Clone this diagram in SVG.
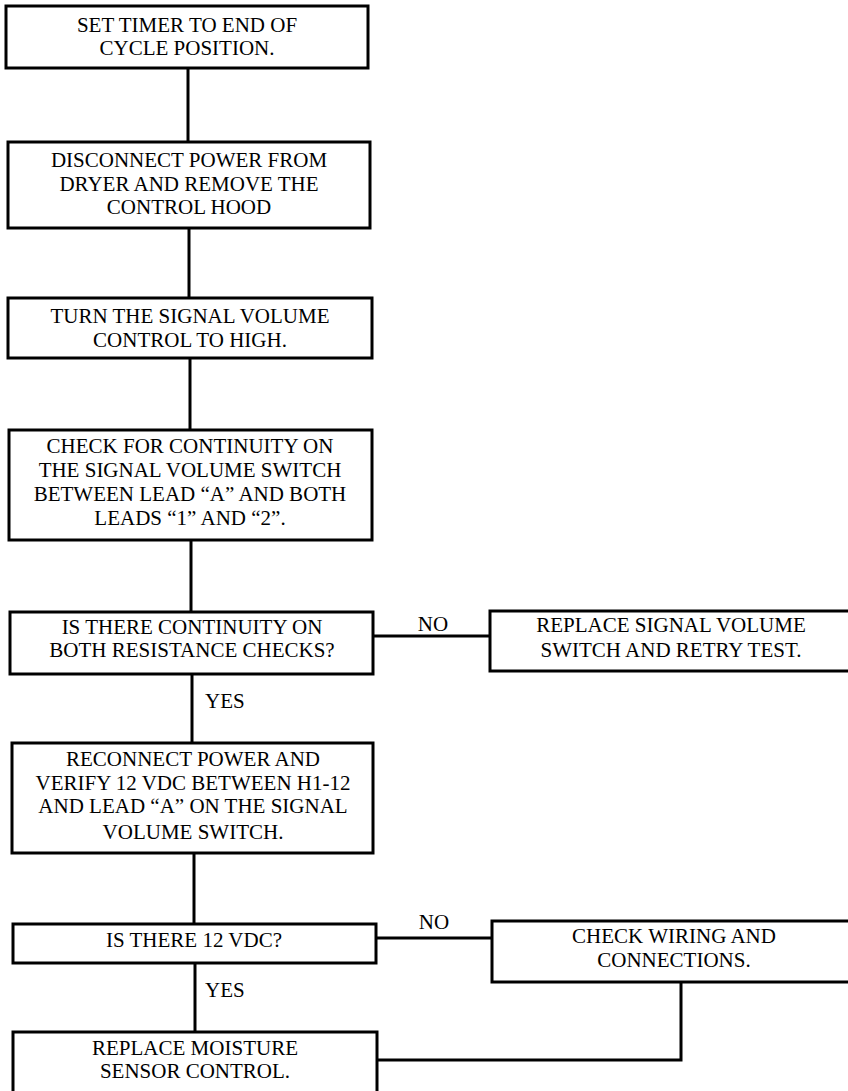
<svg xmlns="http://www.w3.org/2000/svg" width="848" height="1091" viewBox="0 0 848 1091">
<style>
.box{fill:#fff;stroke:#000;stroke-width:3}
.ln{fill:none;stroke:#000;stroke-width:3}
text{font-family:"Liberation Serif","Times New Roman",serif;font-size:21px;fill:#000}
.c{text-anchor:middle}
</style>
<rect width="848" height="1091" fill="#fff"/>
<g id="connectors">
<line class="ln" x1="188" y1="68" x2="188" y2="142"/>
<line class="ln" x1="189" y1="228" x2="189" y2="298"/>
<line class="ln" x1="190" y1="358" x2="190" y2="430"/>
<line class="ln" x1="191" y1="540" x2="191" y2="612"/>
<line class="ln" x1="373" y1="636" x2="490" y2="636"/>
<line class="ln" x1="192" y1="674" x2="192" y2="743"/>
<line class="ln" x1="194" y1="853" x2="194" y2="924"/>
<line class="ln" x1="376" y1="938" x2="492" y2="938"/>
<line class="ln" x1="195" y1="963" x2="195" y2="1032"/>
<polyline class="ln" points="681,982 681,1060 377,1060"/>
<text x="433" y="631" class="c">NO</text>
<text x="205" y="708">YES</text>
<text x="434" y="929" class="c">NO</text>
<text x="205" y="997">YES</text>
</g>
<g id="n1">
<rect class="box" x="6" y="6" width="362" height="62"/>
<text x="187" y="32" class="c">SET TIMER TO END OF</text>
<text x="187" y="55" class="c">CYCLE POSITION.</text>
</g>
<g id="n2">
<rect class="box" x="8" y="142" width="362" height="86"/>
<text x="189" y="167" class="c">DISCONNECT POWER FROM</text>
<text x="189" y="191" class="c">DRYER AND REMOVE THE</text>
<text x="189" y="214" class="c">CONTROL HOOD</text>
</g>
<g id="n3">
<rect class="box" x="8" y="298" width="364" height="60"/>
<text x="190" y="323" class="c">TURN THE SIGNAL VOLUME</text>
<text x="190" y="347" class="c">CONTROL TO HIGH.</text>
</g>
<g id="n4">
<rect class="box" x="9" y="430" width="363" height="110"/>
<text x="190" y="453" class="c">CHECK FOR CONTINUITY ON</text>
<text x="190" y="477" class="c">THE SIGNAL VOLUME SWITCH</text>
<text x="190" y="501" class="c">BETWEEN LEAD “A” AND BOTH</text>
<text x="190" y="525" class="c">LEADS “1” AND “2”.</text>
</g>
<g id="n5">
<rect class="box" x="10" y="612" width="363" height="62"/>
<text x="192" y="634" class="c">IS THERE CONTINUITY ON</text>
<text x="192" y="657" class="c">BOTH RESISTANCE CHECKS?</text>
</g>
<g id="n6">
<rect class="box" x="490" y="611" width="365" height="60"/>
<text x="671" y="632" class="c">REPLACE SIGNAL VOLUME</text>
<text x="671" y="657" class="c">SWITCH AND RETRY TEST.</text>
</g>
<g id="n7">
<rect class="box" x="12" y="743" width="361" height="110"/>
<text x="193" y="766" class="c">RECONNECT POWER AND</text>
<text x="193" y="790" class="c">VERIFY 12 VDC BETWEEN H1-12</text>
<text x="193" y="813" class="c">AND LEAD “A” ON THE SIGNAL</text>
<text x="193" y="839" class="c">VOLUME SWITCH.</text>
</g>
<g id="n8">
<rect class="box" x="13" y="924" width="363" height="39"/>
<text x="194" y="947" class="c">IS THERE 12 VDC?</text>
</g>
<g id="n9">
<rect class="box" x="492" y="921" width="363" height="61"/>
<text x="674" y="943" class="c">CHECK WIRING AND</text>
<text x="674" y="967" class="c">CONNECTIONS.</text>
</g>
<g id="n10">
<rect class="box" x="13" y="1032" width="364" height="65"/>
<text x="195" y="1055" class="c">REPLACE MOISTURE</text>
<text x="195" y="1078" class="c">SENSOR CONTROL.</text>
</g>
</svg>
